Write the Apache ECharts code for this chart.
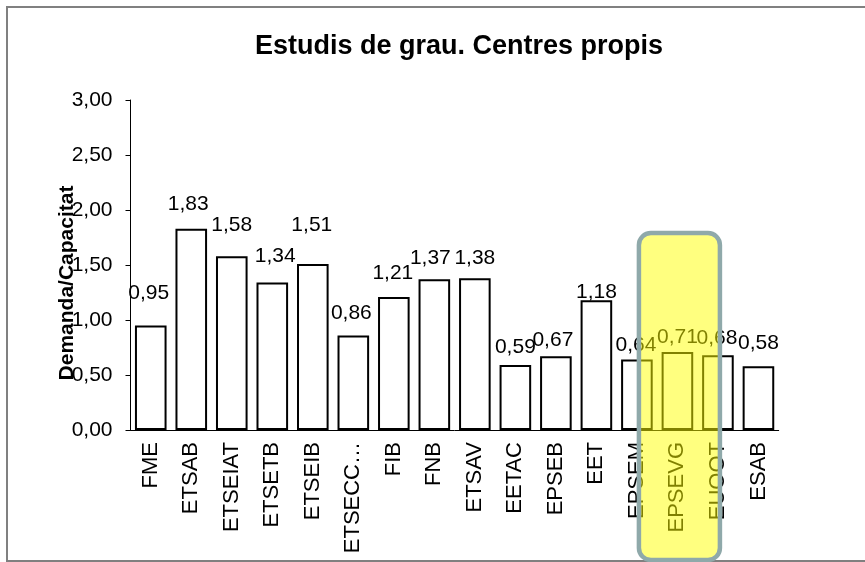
<!DOCTYPE html>
<html>
<head>
<meta charset="utf-8">
<script src="https://cdn.jsdelivr.net/npm/echarts@6/dist/echarts.min.js"></script>
<style>
html,body{margin:0;padding:0;background:#fff;}
#chart{width:865px;height:562px;}
</style>
</head>
<body>
<div id="chart"></div>
<script>
// ---- data ----
var categories = ['FME','ETSAB','ETSEIAT','ETSETB','ETSEIB','ETSECC…','FIB','FNB','ETSAV','EETAC','EPSEB','EET','EPSEM','EPSEVG','EUOOT','ESAB'];
var ratioValues = [0.95,1.83,1.58,1.34,1.51,0.86,1.21,1.37,1.38,0.59,0.67,1.18,0.64,0.71,0.68,0.58];
var yTicks = [0, 0.5, 1, 1.5, 2, 2.5, 3];
var titleText = 'Estudis de grau. Centres propis';
var yAxisTitle = 'Demanda/Capacitat';
var highlightCategory = 'EPSEVG';

// ---- label placement (style only: manual offsets as in the original) ----
var labelLift = [32,24,31,26,39,22,24,21,20,18,16,8,14,15,17,23];
var labelShift = [-2,-3,0,3,-1,-2,-1,-4,0,0,-3,0,-1,0,-1,0];

var FONT = "'Liberation Sans', Arial, sans-serif";
function fmt(v){ return v.toFixed(2).replace('.', ','); }

var chart = echarts.init(document.getElementById('chart'), null, {renderer:'canvas'});

var barData = ratioValues.map(function(v, i){
  return {
    value: v,
    label: { offset: [labelShift[i], -(labelLift[i] - 10)] }
  };
});

var option = {
  animation: false,
  backgroundColor: '#fff',
  title: {
    text: titleText,
    left: 454,
    top: 28,
    textAlign: 'center',
    textStyle: { fontFamily: FONT, fontSize: 27, fontWeight: 'bold', color: '#000' }
  },
  grid: { left: 130.5, right: 86.3, top: 100, bottom: 132, containLabel: false },
  xAxis: {
    type: 'category',
    data: categories,
    axisLine: { lineStyle: { color: '#000', width: 1 } },
    axisTick: { show: false },
    axisLabel: {
      rotate: 90, margin: 12, color: '#000', fontFamily: FONT, fontSize: 22, interval: 0
    }
  },
  yAxis: {
    type: 'value',
    min: 0, max: 3, interval: 0.5,
    splitLine: { show: false },
    axisLine: { show: true, lineStyle: { color: '#000', width: 1 } },
    axisTick: { show: true, length: 5, lineStyle: { color: '#000' } },
    axisLabel: {
      margin: 18, color: '#000', fontFamily: FONT, fontSize: 21,
      formatter: function(v){ return yTicks.indexOf(v) >= 0 ? fmt(v) : ''; }
    }
  },
  series: [{
    type: 'bar',
    data: barData,
    barCategoryGap: '22%',
    itemStyle: { color: '#fff', borderColor: '#000', borderWidth: 2 },
    label: {
      show: true, position: 'top', distance: 0,
      color: '#000', fontFamily: FONT, fontSize: 21, lineHeight: 20,
      formatter: function(p){ return fmt(p.value); }
    }
  }]
};
chart.setOption(option);

// annotations
var hiIdx = categories.indexOf(highlightCategory);
var cx = chart.convertToPixel({xAxisIndex:0}, categories[hiIdx]);
chart.setOption({
  graphic: [
    {
      type: 'rect', silent: true, z: 0,
      shape: { x: 7, y: 7, width: 900, height: 554 },
      style: { fill: 'none', stroke: '#808080', lineWidth: 2 }
    },
    {
      type: 'text', silent: true,
      x: 67, y: 283, rotation: Math.PI / 2,
      style: {
        text: yAxisTitle, fill: '#000', font: 'bold 21px ' + FONT,
        textAlign: 'center', textVerticalAlign: 'middle'
      }
    },
    {
      type: 'rect', silent: true, z: 100,
      shape: { x: cx - 38.5, y: 233, width: 81, height: 327, r: 12 },
      style: { fill: 'rgba(255,255,0,0.5)', stroke: '#8fa9aa', lineWidth: 4.5 }
    }
  ]
});
</script>
</body>
</html>
